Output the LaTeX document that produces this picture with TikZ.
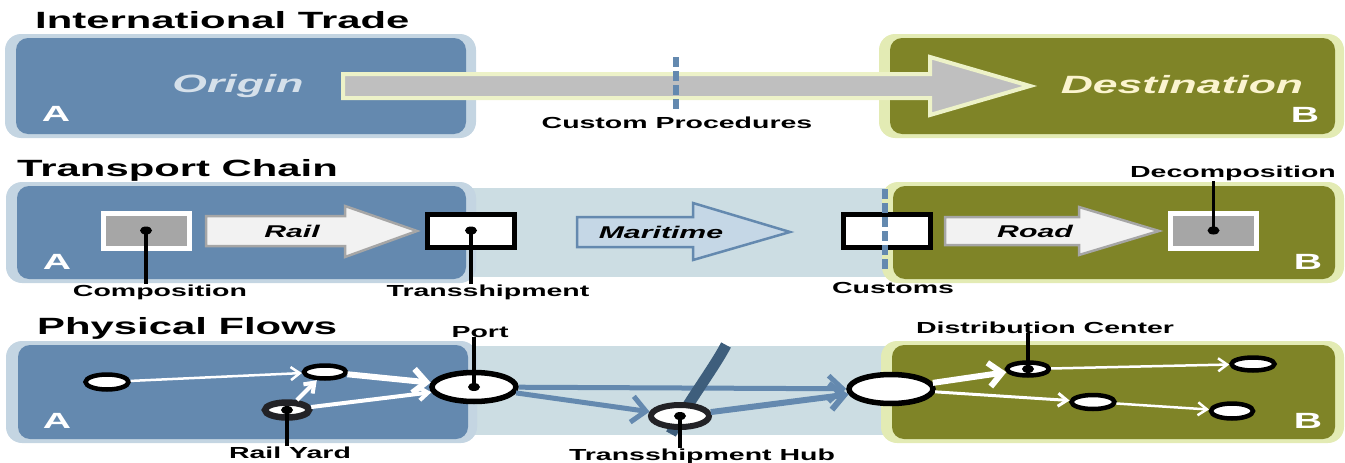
\documentclass[tikz,border=0pt]{standalone}
\usepackage{fontspec}
\usepackage{tikz}
\usetikzlibrary{arrows.meta}
\usetikzlibrary{shapes.geometric}
\newfontfamily\widesans[FakeStretch=1.78]{Liberation Sans}
\definecolor{steel}{HTML}{6489AF}
\definecolor{steeledge}{HTML}{C4D5E2}
\definecolor{moss}{HTML}{7F8427}
\definecolor{mossedge}{HTML}{E3EBB4}
\definecolor{corridor}{HTML}{CCDDE3}
\definecolor{origintext}{HTML}{D5E0EA}
\definecolor{desttext}{HTML}{FBF4CF}
\definecolor{tradegray}{HTML}{BFBFBF}
\definecolor{tradeedge}{HTML}{EDF2C8}
\definecolor{railfill}{HTML}{F2F2F2}
\definecolor{railedge}{HTML}{A6A6A6}
\definecolor{seafill}{HTML}{C5D7E6}
\definecolor{route}{HTML}{3E5E7C}
\definecolor{ringgray}{HTML}{222226}

\begin{document}
\begin{tikzpicture}[x=1pt, y=-1pt,
    title/.style={anchor=base west, inner sep=0, font=\widesans\bfseries\fontsize{23.5}{26}\selectfont},
    lbl/.style={anchor=base, inner sep=0, font=\widesans\bfseries\fontsize{16}{18}\selectfont},
    place/.style={anchor=base, inner sep=0, font=\widesans\bfseries\itshape\fontsize{25}{28}\selectfont},
    corner/.style={anchor=base, inner sep=0, text=white, font=\widesans\bfseries\fontsize{22}{24}\selectfont},
    mode/.style={inner sep=0, font=\widesans\bfseries\itshape\fontsize{17}{19}\selectfont},
    originedge/.style={fill=steeledge, rounded corners=16pt},
    originfill/.style={fill=steel, rounded corners=12pt},
    destedge/.style={fill=mossedge, rounded corners=16pt},
    destfill/.style={fill=moss, rounded corners=12pt},
    customsline/.style={draw=steel, line width=6pt, dash pattern=on 10pt off 4pt},
    pointer/.style={draw=black, line width=3.5pt},
    compbox/.style={rectangle, fill=railedge, draw=white, line width=5pt, inner sep=0, minimum width=86, minimum height=35},
    transbox/.style={rectangle, fill=white, draw=black, line width=5pt, inner sep=0, minimum width=87, minimum height=33},
    stop/.style={ellipse, fill=white, draw=black, line width=4.5pt, inner sep=0, minimum width=43, minimum height=15},
    yard/.style={ellipse, fill=white, draw=ringgray, line width=6.5pt, inner sep=0, minimum width=44, minimum height=15},
    gate/.style={ellipse, fill=white, draw=black, line width=5.5pt, inner sep=0, minimum width=84, minimum height=29},
    flow/.style={draw=white, line width=2.5pt, -{Straight Barb[length=9pt,width=13pt]}},
    bigflow/.style={draw=white, line width=6pt, -{Straight Barb[length=13pt,width=24pt]}},
    seaflow/.style={draw=steel, line width=5pt, -{Straight Barb[length=14pt,width=26pt]}}]

    \useasboundingbox (0,0) rectangle (1345,463);

    % international trade
    \node[title] (ttrade) at (35,28) {International Trade};

    \fill[originedge] (5,34) rectangle (476,138);
    \fill[originfill] (16,38) rectangle (466,134);
    \fill[destedge] (879,34) rectangle (1344,138);
    \fill[destfill] (890,38) rectangle (1335,134);

    \filldraw[fill=tradegray, draw=tradeedge, line width=4pt] (343,74) -- (930,74) -- (930,57) -- (1030,86) -- (930,115) -- (930,98) -- (343,98) -- cycle;
    \draw[customsline] (676,57) -- (676,110);

    \node[place, text=origintext] (origin) at (238,92) {Origin};
    \node[place, text=desttext] (dest) at (1182,93) {Destination};
    \node[corner] (a1) at (56,121) {A};
    \node[corner] (b1) at (1305,122) {B};
    \node[lbl] (customproc) at (677,128) {Custom Procedures};

    % transport chain
    \node[title] (tchain) at (17,176) {Transport Chain};

    \fill[corridor] (460,188) rectangle (895,277);
    \fill[originedge] (6,182) rectangle (476,283);
    \fill[originfill] (17,186) rectangle (466,279);
    \fill[destedge] (882,182) rectangle (1344,283);
    \fill[destfill] (893,186) rectangle (1335,279);
    \node[corner] (a2) at (57,269) {A};
    \node[corner] (b2) at (1308,269) {B};

    \filldraw[fill=railfill, draw=railedge, line width=2.5pt] (206,216) -- (345,216) -- (345,206) -- (417,231) -- (345,257) -- (345,246) -- (206,246) -- cycle;
    \filldraw[fill=seafill, draw=steel, line width=2.5pt] (577,217) -- (693,217) -- (693,203) -- (790,232) -- (693,260) -- (693,247) -- (577,247) -- cycle;
    \filldraw[fill=railfill, draw=railedge, line width=2.5pt] (945,217) -- (1079,217) -- (1079,207) -- (1159,231) -- (1079,255) -- (1079,245) -- (945,245) -- cycle;
    \node[mode] (rail) at (292,231) {Rail};
    \node[mode] (maritime) at (661,232) {Maritime};
    \node[mode] (road) at (1035,231) {Road};

    \node[compbox] (comp) at (146,230.5) {};
    \node[transbox] (trans) at (471,230.5) {};
    \node[transbox] (cust) at (886.5,231) {};
    \node[compbox] (decomp) at (1213.5,230.5) {};
    \draw[customsline] (885,189) -- (885,271);
    \fill (comp.center) ellipse (6 and 4);
    \fill (trans.center) ellipse (6 and 4);
    \fill (decomp.center) ellipse (6 and 4);

    \node[lbl] (complbl) at (160,296) {Composition};
    \node[lbl] (translbl) at (488,296) {Transshipment};
    \node[lbl] (custlbl) at (893,293) {Customs};
    \node[lbl] (decomplbl) at (1233,177) {Decomposition};
    \draw[pointer] (comp.center) -- (comp.center |- complbl.north);
    \draw[pointer] (trans.center) -- (trans.center |- translbl.north);
    \draw[pointer] (decomp.center) -- (decomp.center |- decomplbl.south);

    % physical flows
    \node[title] (tflows) at (37,334) {Physical Flows};

    \fill[corridor] (460,346) rectangle (895,435);
    \fill[originedge] (6,341) rectangle (477,443);
    \fill[originfill] (18,345) rectangle (468,439);
    \fill[destedge] (881,341) rectangle (1344,443);
    \fill[destfill] (892,345) rectangle (1335,439);
    \node[corner] (a3) at (57,428) {A};
    \node[corner] (b3) at (1308,428) {B};

    \node[stop] (shipper) at (107,382) {};
    \node[stop, minimum width=42, minimum height=13] (depot) at (325,372) {};
    \node[yard] (yard) at (287,410) {};
    \node[gate] (port) at (474,387) {};
    \node[gate] (entry) at (891,389) {};
    \draw[seaflow] (port) -- (entry);
    \draw[route, line width=11pt] (726,345) .. controls (714,368) and (688,402) .. (671,434);
    \node[yard, line width=6pt, minimum width=58, minimum height=22] (hub) at (680,416) {};
    \node[stop, minimum width=42, minimum height=13] (dc) at (1028,369) {};
    \node[stop, minimum width=43, minimum height=13] (store1) at (1253,364) {};
    \node[stop, minimum width=43, minimum height=14] (store2) at (1093,402) {};
    \node[stop, minimum width=42, minimum height=15] (store3) at (1232,411) {};

    \draw[flow] (shipper) -- (depot);
    \draw[flow, line width=4pt] (yard) -- (depot);
    \draw[bigflow] (depot) -- (port);
    \draw[flow, line width=4pt] (yard) -- (port);
    \draw[seaflow] (port) -- (hub);
    \draw[seaflow, line width=6pt] (hub) -- (entry);
    \draw[bigflow] (entry) -- (dc);
    \draw[flow, line width=3pt] (entry) -- (store2);
    \draw[flow] (dc) -- (store1);
    \draw[flow] (store2) -- (store3);

    \fill (yard.center) ellipse (6 and 4);
    \fill (port.center) ellipse (6 and 4);
    \fill (hub.center) ellipse (6 and 4);
    \fill (dc.center) ellipse (6 and 4);

    \node[lbl] (portlbl) at (480,337) {Port};
    \node[lbl] (yardlbl) at (290,458) {Rail Yard};
    \node[lbl] (hublbl) at (702,460) {Transshipment Hub};
    \node[lbl] (dclbl) at (1045,333) {Distribution Center};
    \draw[pointer] (port.center) -- (port.center |- portlbl.south);
    \draw[pointer] (yard.center) -- (yard.center |- yardlbl.north);
    \draw[pointer] (hub.center) -- (hub.center |- hublbl.north);
    \draw[pointer] (dc.center) -- (dc.center |- dclbl.south);
\end{tikzpicture}
\end{document}
